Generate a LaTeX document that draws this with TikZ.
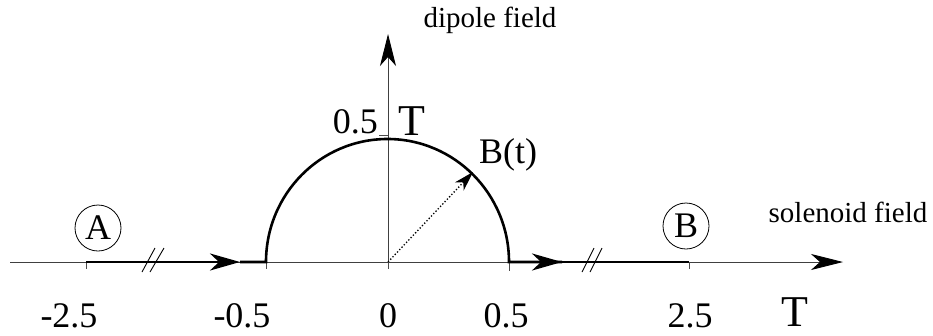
\documentclass[tikz,border=0pt]{standalone}
\usepackage{fontspec}
\setmainfont{Liberation Serif}
\usetikzlibrary{arrows.meta}
\begin{document}
\begin{tikzpicture}[x=1pt,y=-1pt,
  axisline/.style={line width=0.9pt,black!75},
  pathline/.style={line width=2.6pt,black},
  tickline/.style={line width=0.9pt,black!70},
  bigtip/.style={-{Stealth[length=32pt,width=16pt,inset=9pt,color=black]}},
  midtip/.style={-{Stealth[length=30pt,width=17pt,inset=9pt]}},
  lbl/.style={font=\fontsize{29}{29}\selectfont,anchor=base,inner sep=0pt},
  num/.style={font=\fontsize{36}{36}\selectfont,anchor=base,inner sep=0pt},
  unitT/.style={font=\fontsize{44}{44}\selectfont,anchor=base,inner sep=0pt},
  pt/.style={draw,circle,line width=0.8pt,minimum size=46pt,inner sep=0pt,font=\fontsize{36}{36}\selectfont}]
\useasboundingbox (0,0) rectangle (933,335);
% coordinates
\coordinate (xs) at (10,262);
\coordinate (xe) at (843,262);
\coordinate (o) at (388,262);
\coordinate (ye) at (388,34);
\coordinate (a25) at (86,262);
\coordinate (m05) at (266,262);
\coordinate (p05) at (509,262);
\coordinate (b25) at (689,262);
\coordinate (arrL) at (240,262);
\coordinate (arrR) at (562,262);
\coordinate (bt) at (473,172);
% axes
\draw[axisline,bigtip] (xs) -- (xe);
\draw[axisline,bigtip] (o) -- (ye);
% ticks
\draw[tickline] (a25) -- ++(0,7);
\draw[tickline] (m05) -- ++(0,7);
\draw[tickline] (o) -- ++(0,7);
\draw[tickline] (p05) -- ++(0,9);
\draw[tickline] (b25) -- ++(0,7);
\draw[tickline] (379,135) -- (388,135);
% thick path
\draw[pathline,midtip] (a25) -- (arrL);
\draw[pathline] (arrL) -- (m05) arc[start angle=180,end angle=0,x radius=121.5,y radius=-123] -- (arrR);
\draw[pathline,midtip] (p05) -- (arrR);
\draw[pathline] (arrR) -- (b25);
% break marks
\draw[line width=0.9pt] (142,272) -- (155,248);
\draw[line width=0.9pt] (150,272) -- (164,248);
\draw[line width=0.9pt] (582,272) -- (594,248);
\draw[line width=0.9pt] (590,272) -- (602,248);
% B(t) vector
\draw[line width=1.3pt,dotted,-{Stealth[length=20pt,width=12pt,inset=6pt]}] (o) -- (bt);
% labels
\node[lbl] (dip) at (490,27) {dipole field};
\node[lbl] (sol) at (848,222) {solenoid field};
\node[num,anchor=base east] (y05) at (378,133) {0.5};
\node[unitT,anchor=base west] (yT) at (398,135) {T};
\node[num,anchor=base west] (bl) at (479,163) {B(t)};
\node[pt] (A) at (98,228) {A};
\node[pt] (B) at (686,226) {B};
\node[num] (l1) at (69,327) {-2.5};
\node[num] (l2) at (242,327) {-0.5};
\node[num] (l3) at (388,327) {0};
\node[num] (l4) at (506,327) {0.5};
\node[num] (l5) at (690,327) {2.5};
\node[unitT] (lT) at (795,326) {T};
\end{tikzpicture}
\end{document}
